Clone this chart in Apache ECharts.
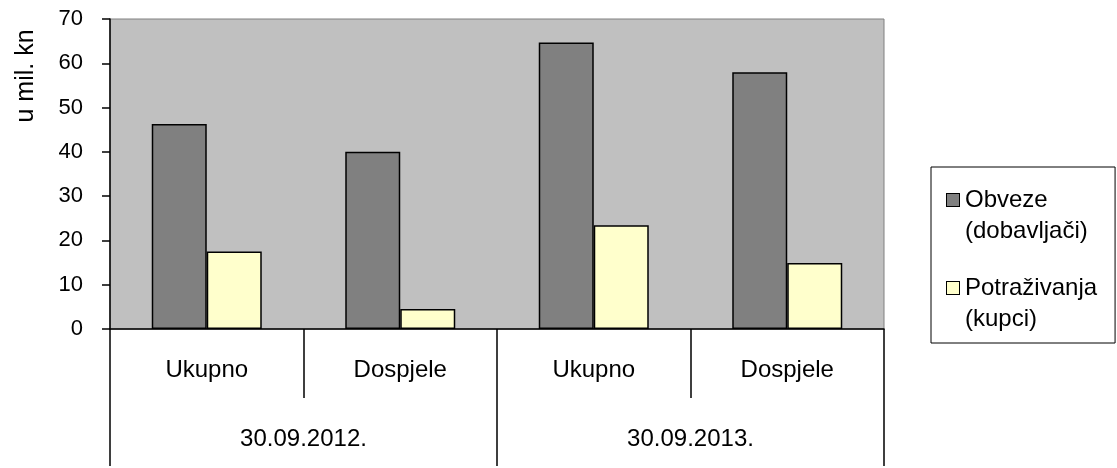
<!DOCTYPE html>
<html>
<head>
<meta charset="utf-8">
<script src="https://cdn.jsdelivr.net/npm/echarts@6/dist/echarts.min.js"></script>
<style>
  html, body { margin: 0; padding: 0; background: #fff; }
  #chart { width: 1117px; height: 468px; }
</style>
</head>
<body>
<div id="chart"></div>
<script>
// podaci
const categories = ['Ukupno', 'Dospjele', 'Ukupno', 'Dospjele'];
const periods = ['30.09.2012.', '30.09.2013.'];
const seriesNames = ['Obveze (dobavljači)', 'Potraživanja (kupci)'];
const legendLines = [['Obveze', '(dobavljači)'], ['Potraživanja', '(kupci)']];
const seriesColors = ['#808080', '#ffffcc'];
const obveze = [46.3, 40.0, 64.7, 58.0];
const potrazivanja = [17.5, 4.5, 23.4, 14.9];
const yTicks = { min: 0, max: 70, interval: 10 };

const FONT = '"Liberation Sans", Arial, sans-serif';
const chart = echarts.init(document.getElementById('chart'));

// kvadratić legende poravnat s prvim redom teksta
const legendRich = {
  t: { fontFamily: FONT, fontSize: 24, color: '#000', lineHeight: 31 },
  gap: { width: 6, lineHeight: 31 },
  ind: { width: 18, lineHeight: 31 }
};
seriesColors.forEach((c, i) => {
  legendRich['sq' + i] = {
    width: 12, height: 12, lineHeight: 31,
    backgroundColor: c, borderColor: '#000', borderWidth: 1,
    verticalAlign: 'middle'
  };
});

const option = {
  animation: false,
  grid: {
    left: 110, right: 233, top: 19, bottom: 139,
    show: true,
    backgroundColor: '#c0c0c0',
    borderColor: '#808080',
    borderWidth: 1
  },
  legend: {
    orient: 'vertical',
    left: 931, top: 167,
    padding: [21, 18, 12, 11],
    itemGap: 33,
    itemWidth: 0, itemHeight: 0,
    icon: 'none',
    borderColor: '#000', borderWidth: 1,
    data: seriesNames,
    formatter: function (name) {
      const i = seriesNames.indexOf(name);
      return '{sq' + i + '| }{gap| }{t|' + legendLines[i][0] + '}\n{ind| }{t|' + legendLines[i][1] + '}';
    },
    textStyle: { rich: legendRich }
  },
  xAxis: [{
    type: 'category',
    data: categories,
    position: 'bottom',
    axisLine: { show: true, lineStyle: { color: '#000', width: 1.5 } },
    axisTick: { show: true, length: 69, lineStyle: { color: '#000', width: 1.5 } },
    axisLabel: { margin: 29, fontFamily: FONT, fontSize: 24, color: '#000' }
  }, {
    type: 'category',
    data: periods,
    position: 'bottom',
    offset: 69,
    axisLine: { show: false },
    axisTick: { show: true, length: 68, lineStyle: { color: '#000', width: 1.5 } },
    axisLabel: { margin: 29, fontFamily: FONT, fontSize: 24, color: '#000' }
  }],
  yAxis: {
    type: 'value',
    min: yTicks.min, max: yTicks.max, interval: yTicks.interval,
    splitLine: { show: false },
    axisLine: { show: true, lineStyle: { color: '#000', width: 1.5 } },
    axisTick: { show: true, length: 8, lineStyle: { color: '#000', width: 1.5 } },
    axisLabel: { margin: 27, fontFamily: FONT, fontSize: 22, color: '#000' }
  },
  graphic: [{
    type: 'text',
    x: 26, y: 76,
    rotation: Math.PI / 2,
    style: {
      text: 'u mil. kn',
      font: '25px "Liberation Sans", Arial, sans-serif',
      fill: '#000',
      align: 'center',
      verticalAlign: 'middle'
    }
  }],
  series: [{
    name: seriesNames[0],
    type: 'bar',
    xAxisIndex: 0,
    data: obveze,
    barWidth: 55,
    barGap: '0%',
    itemStyle: { color: seriesColors[0], borderColor: '#000', borderWidth: 1.5 }
  }, {
    name: seriesNames[1],
    type: 'bar',
    xAxisIndex: 0,
    data: potrazivanja,
    barWidth: 55,
    barGap: '0%',
    itemStyle: { color: seriesColors[1], borderColor: '#000', borderWidth: 1.5 }
  }]
};

chart.setOption(option);
</script>
</body>
</html>
